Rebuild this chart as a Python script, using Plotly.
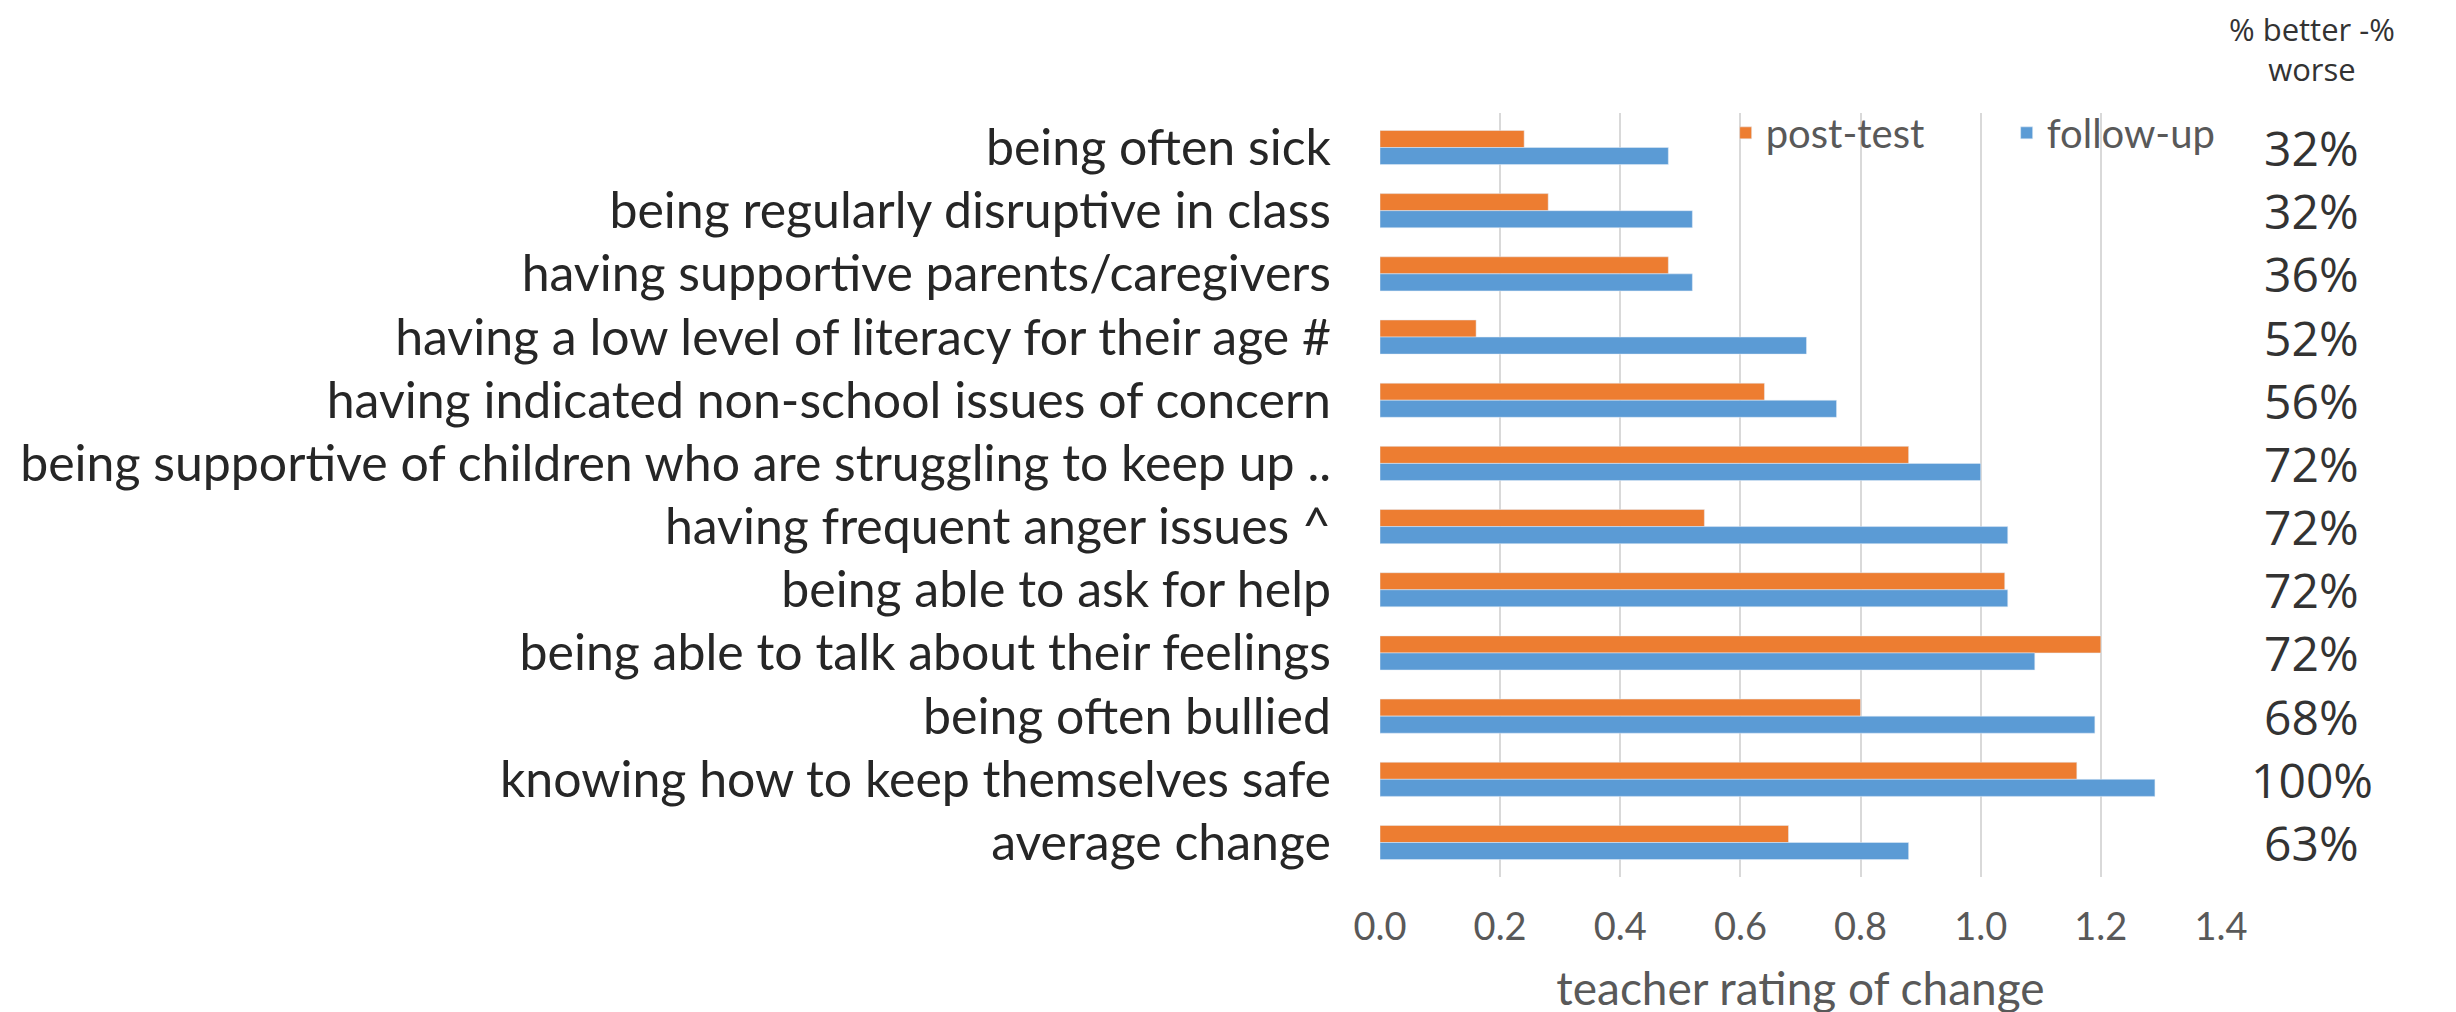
import plotly.graph_objects as go

categories = [
    "being often sick",
    "being regularly disruptive in class",
    "having supportive parents/caregivers",
    "having a low level of literacy for their age #",
    "having indicated non-school issues of concern",
    "being supportive of children who are struggling to keep up ..",
    "having frequent anger issues ^",
    "being able to ask for help",
    "being able to talk about their feelings",
    "being often bullied",
    "knowing how to keep themselves safe",
    "average change",
]
post_test = [0.24, 0.28, 0.48, 0.16, 0.64, 0.88, 0.54, 1.04, 1.20, 0.80, 1.16, 0.68]
follow_up = [0.48, 0.52, 0.52, 0.71, 0.76, 1.00, 1.045, 1.045, 1.09, 1.19, 1.29, 0.88]
pct_better_worse = ["32%", "32%", "36%", "52%", "56%", "72%", "72%", "72%", "72%", "68%", "100%", "63%"]
x_ticks = [0.0, 0.2, 0.4, 0.6, 0.8, 1.0, 1.2, 1.4]

W, H = 2456, 1012
L, R, T, B = 1362, 2456 - 2213, 105, 1012 - 869

fig = go.Figure()
fig.add_trace(go.Bar(y=categories, x=post_test, orientation="h", name="post-test",
                     marker=dict(color="#ED7D31")))
fig.add_trace(go.Bar(y=categories, x=follow_up, orientation="h", name="follow-up",
                     marker=dict(color="#5B9BD5")))

for cat, p in zip(categories, pct_better_worse):
    fig.add_annotation(x=1.108, xref="paper", y=cat, yref="y", text=p, showarrow=False,
                       xanchor="center", yanchor="middle",
                       font=dict(family="Open Sans", size=48, color="#333333"))

fig.add_annotation(x=1.108, xref="paper", y=1.0, yref="paper", yshift=107,
                   text="% better -%<br>worse", showarrow=False,
                   xanchor="center", yanchor="top",
                   font=dict(family="Open Sans", size=31, color="#333333"))

fig.update_layout(
    width=W, height=H,
    margin=dict(l=L, r=R, t=T, b=B),
    paper_bgcolor="white", plot_bgcolor="white",
    barmode="group", bargap=0.46, bargroupgap=0,
    font=dict(family="Lato", color="#595959"),
    legend=dict(orientation="h", x=0.411, y=0.974, xanchor="left", yanchor="middle",
                font=dict(family="Lato", size=40, color="#595959"),
                bgcolor="rgba(0,0,0,0)", itemwidth=30, entrywidth=236,
                traceorder="normal"),
    xaxis=dict(range=[0, 1.4], tickvals=x_ticks, ticktext=[f"{v:.1f}" for v in x_ticks],
               showgrid=True, gridcolor="#D9D9D9", gridwidth=2, zeroline=False,
               showline=False, ticks="", ticklabelstandoff=24,
               tickfont=dict(family="Lato", size=38, color="#595959"),
               title=dict(text="teacher rating of change", standoff=25,
                          font=dict(family="Lato", size=46, color="#595959"))),
    yaxis=dict(autorange="reversed", showgrid=False, zeroline=False, showline=False,
               ticks="", ticklabelstandoff=48,
               tickfont=dict(family="Lato", size=50, color="#262626")),
)

fig.write_html("out.html")
